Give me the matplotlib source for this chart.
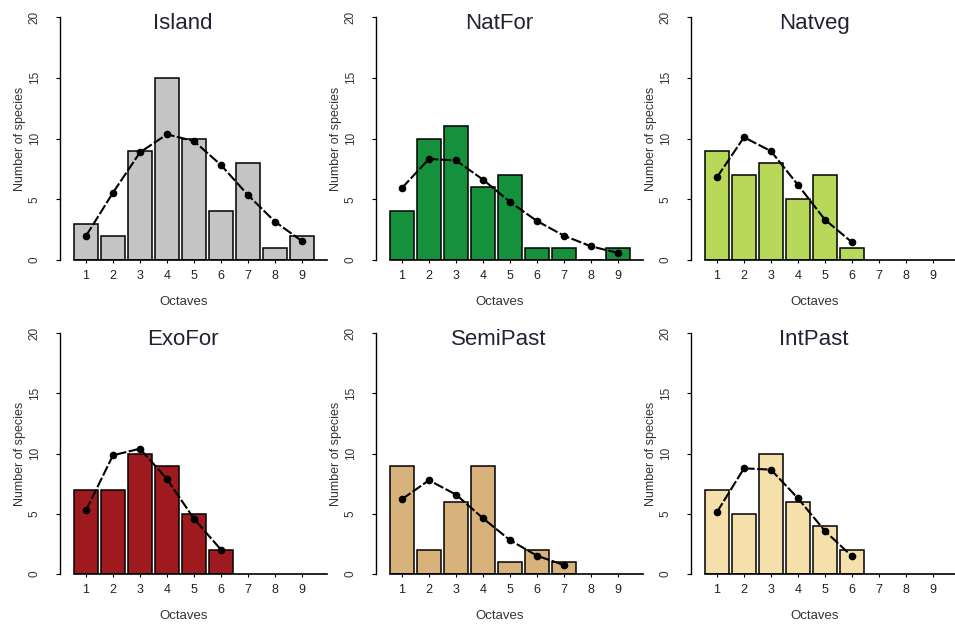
import matplotlib
matplotlib.use("Agg")
import matplotlib.pyplot as plt
import numpy as np

plt.rcParams['font.family'] = ['Liberation Sans', 'DejaVu Sans']

octaves = [1, 2, 3, 4, 5, 6, 7, 8, 9]

titles = ["Island", "NatFor", "Natveg", "ExoFor", "SemiPast", "IntPast"]
colors = ["#c4c4c4", "#15903d", "#b8d85a", "#9e1a1e", "#d8b27b", "#f5dfab"]

# observed number of species per octave (bars)
island_obs = [3, 2, 9, 15, 10, 4, 8, 1, 2]
natfor_obs = [4, 10, 11, 6, 7, 1, 1, 0, 1]
natveg_obs = [9, 7, 8, 5, 7, 1]
exofor_obs = [7, 7, 10, 9, 5, 2]
semipast_obs = [9, 2, 6, 9, 1, 2, 1]
intpast_obs = [7, 5, 10, 6, 4, 2]

# fitted (expected) number of species per octave (dots + dashed line)
island_fit = [1.98, 5.54, 8.86, 10.34, 9.79, 7.82, 5.35, 3.16, 1.56]
natfor_fit = [5.93, 8.32, 8.19, 6.62, 4.78, 3.21, 2.0, 1.13, 0.58]
natveg_fit = [6.81, 10.1, 8.96, 6.18, 3.32, 1.46]
exofor_fit = [5.28, 9.85, 10.4, 7.88, 4.59, 2.02]
semipast_fit = [6.21, 7.78, 6.59, 4.63, 2.81, 1.52, 0.74]
intpast_fit = [5.14, 8.77, 8.66, 6.28, 3.57, 1.47]

observed = [island_obs, natfor_obs, natveg_obs, exofor_obs, semipast_obs, intpast_obs]
fitted = [island_fit, natfor_fit, natveg_fit, exofor_fit, semipast_fit, intpast_fit]

W, H = 955, 626


def panel(fig, left_px, bottom_px, height_px, title, obs, fit, color):
    """Draws one octave histogram with its fitted curve.

    Args:
        fig: Figure to draw into.
        left_px: Pixel position of the y axis.
        bottom_px: Pixel row of the zero line (from top).
        height_px: Pixel height of the 0..20 range.
        title: Panel title.
        obs: Observed counts per octave.
        fit: Fitted counts per octave.
        color: Bar fill colour.

    """
    width_px = 267
    ax = fig.add_axes([left_px / W, 1 - bottom_px / H, width_px / W, height_px / H])
    ax.set_xlim(0.037, 9.93)
    ax.set_ylim(0, 20)

    x_obs = np.arange(1, len(obs) + 1)
    ax.bar(x_obs, obs, width=0.88, color=color, edgecolor="black", linewidth=1.1, zorder=2)
    x_fit = np.arange(1, len(fit) + 1)
    ax.plot(x_fit, fit, color="black", lw=1.5, dashes=(5, 1.2), marker="o",
            markersize=4.5, zorder=3)

    for s in ["top", "right"]:
        ax.spines[s].set_visible(False)
    ax.spines["left"].set_bounds(0, 20)
    ax.spines["bottom"].set_bounds(0.56, 9.93)
    ax.spines["left"].set_linewidth(1.0)
    ax.spines["bottom"].set_linewidth(1.2)

    ax.set_yticks([0, 5, 10, 15, 20])
    ax.set_yticklabels(["0", "5", "10", "15", "20"], rotation=90, va="center",
                       fontsize=8.5, color="#333333")
    ax.tick_params(axis="y", length=3, pad=11, width=0.8)
    ax.set_xticks(octaves)
    ax.set_xticklabels([str(o) for o in octaves], fontsize=9, color="#222222")
    ax.tick_params(axis="x", length=2.5, pad=5, width=0.8)

    ax.set_ylabel("Number of species", fontsize=9, color="#333333")
    ax.yaxis.set_label_coords(-34 / width_px, 0.5)
    ax.text(4.6, -3.45, "Octaves", ha="center", va="center", fontsize=9.5,
            color="#333333", clip_on=False)
    ax.text(4.6, 19.0, title, ha="center", va="baseline", fontsize=16,
            color="#222233", clip_on=False)
    return ax


fig = plt.figure(figsize=(W / 100, H / 100), dpi=100)
lefts = [60, 376, 691]
for i in range(6):
    row = i // 3
    col = i % 3
    if row == 0:
        panel(fig, lefts[col], 260, 243, titles[i], observed[i], fitted[i], colors[i])
    else:
        panel(fig, lefts[col], 574, 241, titles[i], observed[i], fitted[i], colors[i])

fig.savefig("out.png", dpi=100)
